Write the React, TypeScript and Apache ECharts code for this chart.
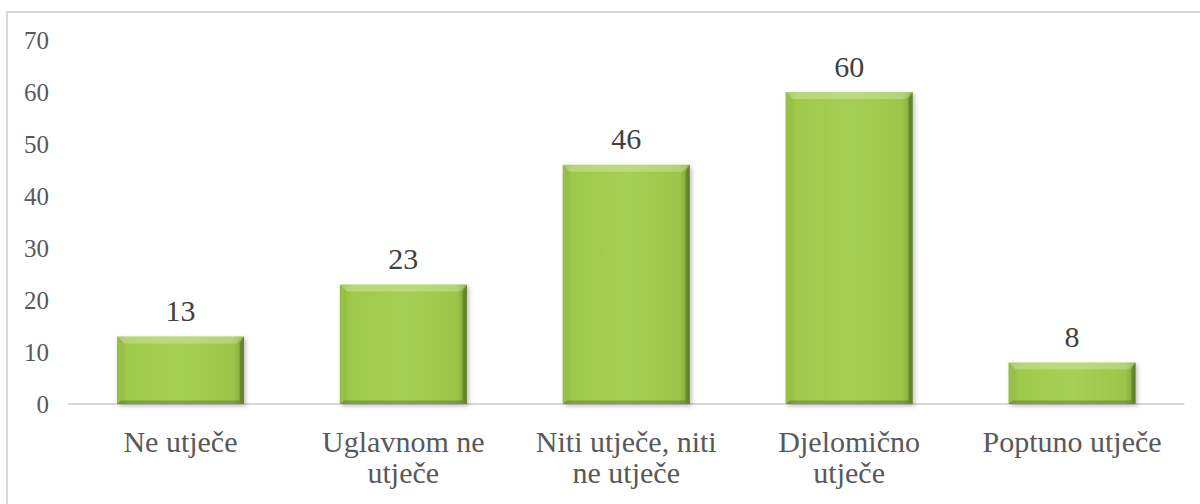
import React, { useEffect, useRef } from "react";
import * as echarts from "echarts";

const categories = [
  "Ne utječe",
  "Uglavnom ne\nutječe",
  "Niti utječe, niti\nne utječe",
  "Djelomično\nutječe",
  "Poptuno utječe",
];
const values = [13, 23, 46, 60, 8];
const yTicks = { min: 0, max: 70, interval: 10 };

export default function App() {
  const ref = useRef<HTMLDivElement>(null);
  useEffect(() => {
    if (!ref.current) return;
    const chart = echarts.init(ref.current, undefined, { renderer: "svg" });
    const font = "Liberation Serif, Times New Roman, serif";
    chart.setOption({
      animation: false,
      backgroundColor: "#ffffff",
      textStyle: { fontFamily: font },
      graphic: [
        {
          type: "rect",
          shape: { x: 7, y: 12, width: 1400, height: 700 },
          style: { fill: "none", stroke: "#d9d9d9", lineWidth: 2 },
          silent: true,
          z: -10,
        },
      ],
      grid: { left: 69, right: 16.5, top: 40, bottom: 100, containLabel: false },
      xAxis: {
        type: "category",
        data: categories,
        axisLine: { lineStyle: { color: "#d9d9d9", width: 2 } },
        axisTick: { show: false },
        axisLabel: {
          interval: 0,
          color: "#595959",
          fontFamily: font,
          fontSize: 30,
          lineHeight: 31,
          margin: 22,
        },
      },
      yAxis: {
        type: "value",
        min: yTicks.min,
        max: yTicks.max,
        interval: yTicks.interval,
        splitLine: { show: false },
        axisLine: { show: false },
        axisTick: { show: false },
        axisLabel: {
          color: "#595959",
          fontFamily: font,
          fontSize: 25,
          margin: 20,
        },
      },
      series: [
        {
          type: "bar",
          data: values,
          barWidth: "57%",
          itemStyle: {
            color: new echarts.graphic.LinearGradient(0, 0, 1, 0, [
              { offset: 0, color: "#8db43c" },
              { offset: 0.08, color: "#9fc94c" },
              { offset: 0.5, color: "#a6cf54" },
              { offset: 0.92, color: "#9cc54a" },
              { offset: 1, color: "#7c9f33" },
            ]),
            shadowBlur: 4,
            shadowColor: "rgba(0,0,0,0.25)",
            shadowOffsetX: 2,
            shadowOffsetY: 2,
          },
          label: {
            show: true,
            position: "top",
            distance: 11,
            color: "#404040",
            fontFamily: font,
            fontSize: 30,
          },
          z: 2,
        },
        {
          type: "custom",
          silent: true,
          z: 3,
          data: values.map((v, i) => [i, v]),
          renderItem: (params: any, api: any) => {
            const idx = api.value(0);
            const v = api.value(1);
            const top = api.coord([idx, v]);
            const bot = api.coord([idx, 0]);
            const w = api.size([1, 0])[0] * 0.57;
            const l = top[0] - w / 2;
            const r = top[0] + w / 2;
            const t = top[1];
            const b = bot[1];
            const bv = Math.min(7, (b - t) / 3);
            return {
              type: "group",
              children: [
                {
                  type: "polygon",
                  shape: { points: [[l, t], [r, t], [r - bv, t + bv], [l + bv, t + bv]] },
                  style: { fill: "rgba(255,255,255,0.25)" },
                },
                {
                  type: "polygon",
                  shape: { points: [[l, t], [l + bv * 0.6, t + bv], [l + bv * 0.6, b - bv * 0.5], [l, b]] },
                  style: { fill: "rgba(255,255,255,0.08)" },
                },
                {
                  type: "polygon",
                  shape: { points: [[r, t], [r, b], [r - bv * 0.6, b - bv * 0.5], [r - bv * 0.6, t + bv]] },
                  style: { fill: "rgba(50,70,15,0.35)" },
                },
                {
                  type: "polygon",
                  shape: { points: [[l, b], [r, b], [r - bv * 0.6, b - bv * 0.5], [l + bv * 0.6, b - bv * 0.5]] },
                  style: { fill: "rgba(50,70,15,0.3)" },
                },
              ],
            };
          },
        },
      ],
    });
    return () => chart.dispose();
  }, []);
  return (
    <div
      ref={ref}
      style={{ position: "fixed", left: 0, top: 0, width: 1200, height: 504 }}
    />
  );
}
